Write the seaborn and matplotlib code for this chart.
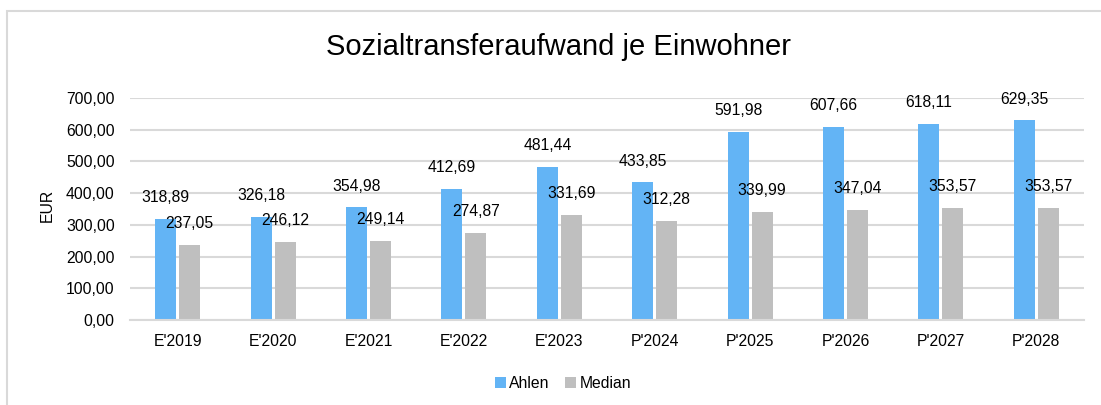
import matplotlib
matplotlib.use("Agg")
import matplotlib.pyplot as plt
from matplotlib.ticker import FuncFormatter, MultipleLocator
from matplotlib.patches import Rectangle
import seaborn as sns
import pandas as pd

categories = ["E'2019", "E'2020", "E'2021", "E'2022", "E'2023",
              "P'2024", "P'2025", "P'2026", "P'2027", "P'2028"]
ahlen = [318.89, 326.18, 354.98, 412.69, 481.44, 433.85, 591.98, 607.66, 618.11, 629.35]
median = [237.05, 246.12, 249.14, 274.87, 331.69, 312.28, 339.99, 347.04, 353.57, 353.57]
series_names = ["Ahlen", "Median"]
colors = ["#63B4F5", "#BFBFBF"]

df = pd.DataFrame({
    "Jahr": categories * 2,
    "Wert": ahlen + median,
    "Serie": [series_names[0]] * len(categories) + [series_names[1]] * len(categories),
})

sns.set_theme(style="white")
plt.rcParams["font.family"] = ["Liberation Sans", "DejaVu Sans"]
plt.rcParams["text.color"] = "#000000"
plt.rcParams["axes.labelcolor"] = "#000000"

FS = 11.3

fig = plt.figure(figsize=(11.01, 4.05), dpi=100)
ax = fig.add_axes([130 / 1101, 1 - 320 / 405, (1084 - 130) / 1101, (320 - 98) / 405])

sns.barplot(data=df, x="Jahr", y="Wert", hue="Serie", palette=colors,
            order=categories, hue_order=series_names,
            width=0.5, gap=0.12, ax=ax, legend=True, saturation=1,
            linewidth=0, edgecolor="none")

ax.set_ylim(0, 700)
ax.yaxis.set_major_locator(MultipleLocator(100))
ax.yaxis.set_major_formatter(FuncFormatter(lambda v, p: f"{v:.2f}".replace(".", ",")))
ax.grid(axis="y", color="#D9D9D9", linewidth=1.5)
ax.set_axisbelow(True)
for s in ["top", "right", "left"]:
    ax.spines[s].set_visible(False)
ax.spines["bottom"].set_color("#D9D9D9")
ax.spines["bottom"].set_linewidth(1.5)
ax.tick_params(axis="both", length=0, labelsize=FS, colors="#000000")
ax.tick_params(axis="x", pad=10)
ax.tick_params(axis="y", pad=11)
ax.set_xlabel("")
ax.set_ylabel("EUR", fontsize=FS)
ax.yaxis.set_label_coords(-0.0786, 0.518)

for cont in ax.containers:
    ax.bar_label(cont, labels=[f"{b.get_height():.2f}".replace(".", ",") for b in cont],
                 padding=10, fontsize=FS, color="#000000")

leg = ax.legend(loc="center", bbox_to_anchor=(563 / 1101, 1 - 383 / 405),
                bbox_transform=fig.transFigure, ncol=2, frameon=False, fontsize=FS,
                handlelength=0.7, handleheight=0.7, handletextpad=0.2, columnspacing=1.0)
for t in leg.get_texts():
    t.set_color("#000000")

fig.text(558 / 1101, 1 - 47 / 405, "Sozialtransferaufwand je Einwohner",
         ha="center", va="center", fontsize=21, color="#000000")

fig.patches.append(Rectangle((7 / 1101, -0.1), 1.2, 1 - 11 / 405 + 0.1,
                             transform=fig.transFigure, fill=False,
                             edgecolor="#D9D9D9", linewidth=1.5))

fig.savefig("out.png", dpi=100)
